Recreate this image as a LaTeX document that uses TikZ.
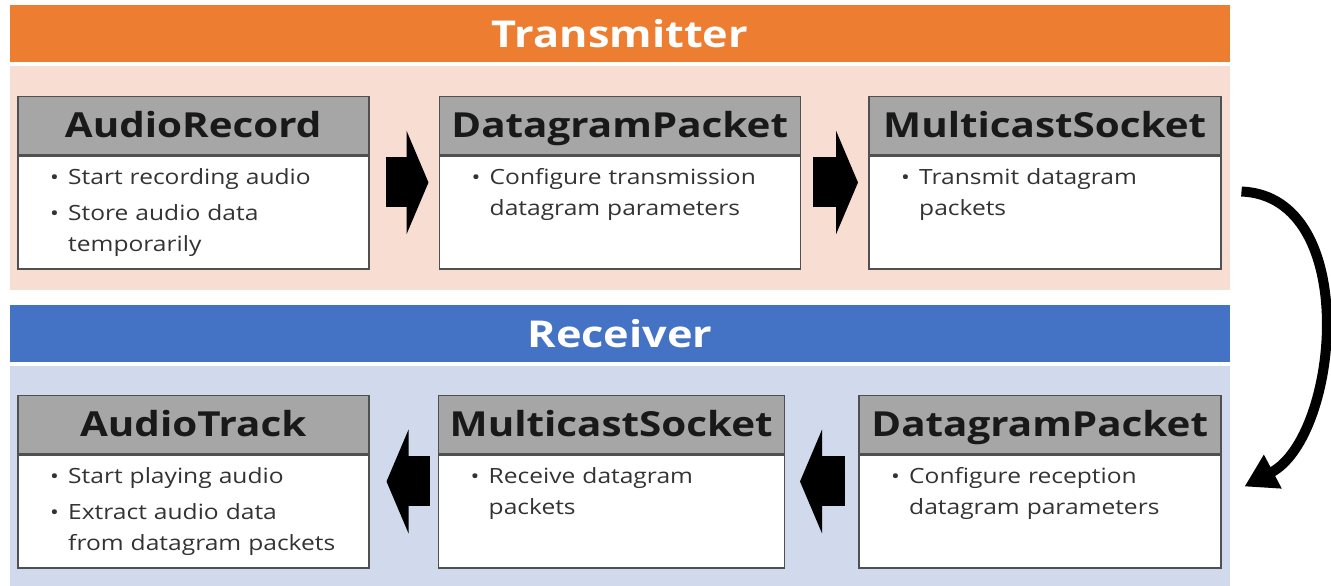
\documentclass[tikz,border=0pt]{standalone}
\usepackage{fontspec}
\setmainfont{Open Sans}[FakeStretch=1.17]
\usetikzlibrary{positioning,arrows.meta}

\definecolor{txorange}{HTML}{ED7D31}
\definecolor{txpink}{HTML}{F8DDD3}
\definecolor{rxblue}{HTML}{4472C4}
\definecolor{rxpale}{HTML}{D1D9EC}
\definecolor{headgray}{HTML}{A6A6A6}
\definecolor{boxline}{HTML}{505050}

% text inside the white boxes
\newcommand\itemfont{\fontsize{21}{31}\selectfont\parskip=5pt\relax}
% bullet item with hanging indent
\newcommand\itm[1]{\hangindent=18pt\relax\hangafter=1\relax\noindent\makebox[18pt][l]{\fontsize{20}{20}\selectfont\textbullet}#1\par}

\begin{document}
\begin{tikzpicture}[x=1pt,y=1pt,
  bar/.style={minimum width=1220pt,minimum height=57pt,inner sep=0pt,text=white,font=\fontsize{37}{40}\selectfont\bfseries},
  panel/.style={minimum width=1220pt,inner sep=0pt},
  head/.style={draw=boxline,line width=1.5pt,fill=headgray,minimum height=58pt,inner sep=0pt,text height=30pt,text depth=6pt,font=\fontsize{34.5}{38}\selectfont\bfseries,text=black!90},
  body/.style={draw=boxline,line width=1.5pt,fill=white,minimum height=113pt,inner sep=0pt},
  items/.style={anchor=north west,inner sep=0pt,text width=300pt,font=\itemfont,text=black!80},
  blk/.style={line width=50pt,-{Triangle[length=22pt,width=103pt]}},
  flow/.style={line width=10pt,-{Triangle[length=32pt,width=36pt]}}
]
\useasboundingbox (0,0) rectangle (1331,586);

% Transmitter side
\node[bar,fill=txorange] (txbar) at (620,552.5) {Transmitter};
\node[panel,fill=txpink,minimum height=224pt] (txpanel) at (620,408) {};

\node[head,minimum width=351pt,anchor=north west] (rec) at (17,490) {AudioRecord};
\node[body,minimum width=351pt,below=0pt of rec] (recb) {};
\node[items] (rect) at ([xshift=33pt,yshift=-13pt]recb.north west)
  {\itm{Start recording audio}\itm{Store audio data\newline temporarily}};

\node[head,minimum width=361pt,right=69pt of rec] (txpack) {DatagramPacket};
\node[body,minimum width=361pt,below=0pt of txpack] (txpackb) {};
\node[items] (txpackt) at ([xshift=33pt,yshift=-13pt]txpackb.north west)
  {\itm{Configure transmission\newline datagram parameters}};

\node[head,minimum width=352pt,right=67pt of txpack] (txsock) {MulticastSocket};
\node[body,minimum width=352pt,below=0pt of txsock] (txsockb) {};
\node[items] (txsockt) at ([xshift=33pt,yshift=-13pt]txsockb.north west)
  {\itm{Transmit datagram\newline packets}};

\draw[blk] ([xshift=16pt,yshift=-27pt]rec.south east) -- ([xshift=-10pt,yshift=-27pt]txpack.south west);
\draw[blk] ([xshift=12pt,yshift=-27pt]txpack.south east) -- ([xshift=-10pt,yshift=-27pt]txsock.south west);

% Receiver side
\node[bar,fill=rxblue] (rxbar) at (620,252.5) {Receiver};
\node[panel,fill=rxpale,minimum height=220pt] (rxpanel) at (620,110) {};

\node[head,minimum width=351pt,anchor=north west] (track) at (17,191) {AudioTrack};
\node[body,minimum width=351pt,below=0pt of track] (trackb) {};
\node[items] (trackt) at ([xshift=33pt,yshift=-13pt]trackb.north west)
  {\itm{Start playing audio}\itm{Extract audio data\newline from datagram packets}};

\node[head,minimum width=346pt,right=68pt of track] (rxsock) {MulticastSocket};
\node[body,minimum width=346pt,below=0pt of rxsock] (rxsockb) {};
\node[items] (rxsockt) at ([xshift=33pt,yshift=-13pt]rxsockb.north west)
  {\itm{Receive datagram\newline packets}};

\node[head,minimum width=362pt,right=73pt of rxsock] (rxpack) {DatagramPacket};
\node[body,minimum width=362pt,below=0pt of rxpack] (rxpackb) {};
\node[items] (rxpackt) at ([xshift=33pt,yshift=-13pt]rxpackb.north west)
  {\itm{Configure reception\newline datagram parameters}};

\draw[blk] ([xshift=-13pt,yshift=-27pt]rxpack.south west) -- ([xshift=15pt,yshift=-27pt]rxsock.south east);
\draw[blk] ([xshift=-8pt,yshift=-27pt]rxsock.south west) -- ([xshift=17pt,yshift=-27pt]track.south east);

% hand-over from sender to receiver
\draw[flow] ([xshift=20pt,yshift=-36pt]txsock.south east)
  .. controls +(120,-5) and +(95,50) .. ([xshift=23pt,yshift=-32pt]rxpack.south east);
\end{tikzpicture}
\end{document}
